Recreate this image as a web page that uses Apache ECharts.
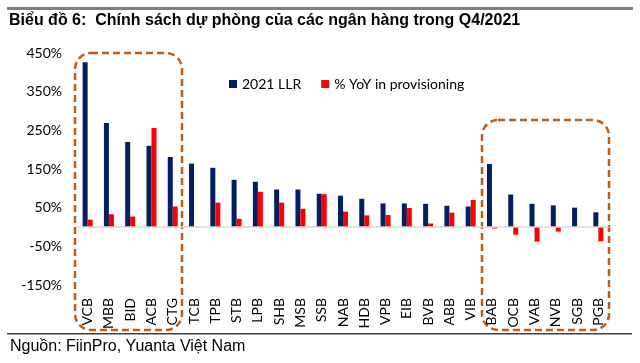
<!DOCTYPE html>
<html>
<head>
<meta charset="utf-8">
<script src="https://cdn.jsdelivr.net/npm/echarts@6/dist/echarts.min.js"></script>
<style>
  html, body { margin: 0; padding: 0; background: #fff; }
  #provisionChart { width: 640px; height: 363px; }
</style>
</head>
<body>
<div id="provisionChart"></div>
<script>
// banks, left to right
const banks = ['VCB', 'MBB', 'BID', 'ACB', 'CTG', 'TCB', 'TPB', 'STB', 'LPB', 'SHB', 'MSB', 'SSB', 'NAB',
  'HDB', 'VPB', 'EIB', 'BVB', 'ABB', 'VIB', 'BAB', 'OCB', 'VAB', 'NVB', 'SGB', 'PGB']
// 2021 LLR (%)
const llr2021 = [426, 269, 220, 210, 181, 164, 153, 122, 117, 97, 97, 86, 81, 73, 61, 61, 60, 55, 53, 163, 84, 60, 56, 50, 38]
// % YoY in provisioning
const yoyProvision = [19, 33, 27, 256, 53, 1, 63, 21, 91, 63, 47, 85, 40, 30, 31, 49, 9, 37, 70, -4, -20, -38, -12, 0, -37]
// y tick labels that are shown
const yTicks = [-150, -50, 50, 150, 250, 350, 450]

const labelFont = 'Lato'
const boxColor = '#C55A11'

const chart = echarts.init(document.getElementById('provisionChart'))

chart.setOption({
  backgroundColor: '#fff',
  animation: false,
  grid: { left: 77, right: 31, top: 53, bottom: 78 },
  legend: {
    left: 224,
    top: 72,
    itemWidth: 8,
    itemHeight: 8,
    itemGap: 20,
    icon: 'rect',
    textStyle: { fontFamily: labelFont, fontSize: 14, color: '#000' },
    data: ['2021 LLR', '% YoY in provisioning']
  },
  xAxis: {
    type: 'category',
    data: banks,
    position: 'bottom',
    axisLine: { show: false, onZero: false },
    axisTick: { show: false },
    axisLabel: {
      rotate: 90,
      margin: 13,
      interval: 0,
      fontFamily: labelFont,
      fontSize: 14,
      color: '#000'
    }
  },
  yAxis: {
    type: 'value',
    min: -150,
    max: 450,
    interval: 50,
    axisLine: { show: false },
    axisTick: { show: false },
    splitLine: { show: false },
    axisLabel: {
      margin: 15,
      fontFamily: labelFont,
      fontSize: 14,
      color: '#000',
      formatter: function (v) {
        return yTicks.indexOf(v) >= 0 ? v + '%' : ''
      }
    }
  },
  series: [
    {
      name: '2021 LLR',
      type: 'bar',
      data: llr2021,
      barWidth: 5,
      barGap: '0%',
      itemStyle: { color: '#002060' },
      markLine: {
        silent: true,
        symbol: 'none',
        label: { show: false },
        lineStyle: { color: '#d9d9d9', type: 'solid', width: 1.5 },
        data: [{ yAxis: 0 }]
      }
    },
    {
      name: '% YoY in provisioning',
      type: 'bar',
      data: yoyProvision,
      barWidth: 5,
      barGap: '0%',
      itemStyle: { color: '#FF0000' }
    }
  ],
  graphic: [
    { type: 'rect', left: 7, top: 7, shape: { width: 626, height: 3 }, style: { fill: '#7f7f7f' } },
    {
      type: 'text', left: 9, top: 13,
      style: {
        text: 'Biểu đồ 6:  Chính sách dự phòng của các ngân hàng trong Q4/2021',
        font: 'bold 16px "Liberation Sans", Arial, sans-serif', fill: '#000'
      }
    },
    // highlight boxes
    {
      type: 'rect', shape: { x: 75, y: 53, width: 107, height: 277, r: 16 },
      style: { fill: 'none', stroke: boxColor, lineWidth: 2.5, lineDash: [7, 4] }
    },
    {
      type: 'rect', shape: { x: 482, y: 120, width: 127, height: 210, r: 16 },
      style: { fill: 'none', stroke: boxColor, lineWidth: 2.5, lineDash: [7, 4] }
    },
    { type: 'rect', left: 7, top: 333, shape: { width: 625, height: 1.5 }, style: { fill: '#404040' } },
    {
      type: 'text', left: 10, top: 339,
      style: {
        text: 'Nguồn: FiinPro, Yuanta Việt Nam',
        font: '16px "Liberation Sans", Arial, sans-serif', fill: '#000'
      }
    }
  ]
})
</script>
</body>
</html>
